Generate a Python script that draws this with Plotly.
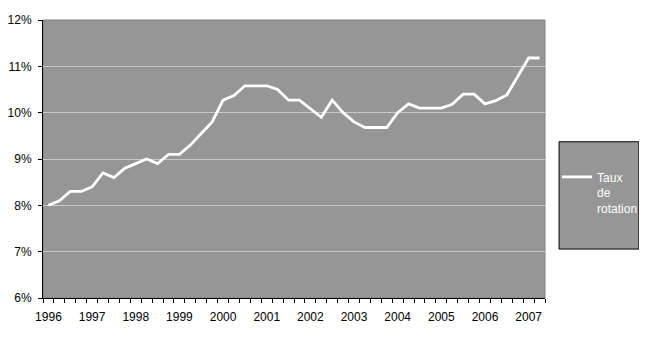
import plotly.graph_objects as go

# Quarterly data, 1996 Q1 .. 2007 Q2
quarters = [f"{y}T{q}" for y in range(1996, 2008) for q in range(1, 5)][:46]
taux_rotation = [
    8.0, 8.1, 8.3, 8.3, 8.4, 8.7, 8.6, 8.8,
    8.9, 9.0, 8.9, 9.1, 9.1, 9.3, 9.55, 9.8,
    10.27, 10.37, 10.58, 10.58, 10.58, 10.5, 10.27, 10.27,
    10.09, 9.9, 10.27, 10.0, 9.8, 9.68, 9.68, 9.68,
    10.0, 10.19, 10.1, 10.1, 10.1, 10.18, 10.4, 10.4,
    10.19, 10.26, 10.38, 10.78, 11.18, 11.18,
]
year_labels = [str(y) for y in range(1996, 2008)]
series_name = "Taux<br>de<br>rotation"

x_idx = list(range(len(quarters)))
year_ticks = [quarters.index(f"{y}T1") for y in range(1996, 2008)]

FONT = "Arial, Liberation Sans, sans-serif"
GRAY = "#969696"

fig = go.Figure()
fig.add_trace(go.Scatter(
    x=x_idx, y=taux_rotation, mode="lines", name=series_name,
    line=dict(color="white", width=2.8),
    customdata=quarters,
))

fig.update_layout(
    width=631, height=324,
    margin=dict(l=35, r=94, t=12, b=34, autoexpand=False),
    paper_bgcolor="white",
    plot_bgcolor=GRAY,
    font=dict(family=FONT, size=12, color="black"),
    showlegend=True,
    legend=dict(
        x=1.024, xanchor="left", y=0.487, yanchor="top",
        bgcolor="rgba(0,0,0,0)", borderwidth=0,
        font=dict(family=FONT, size=12, color="white"),
        valign="top", tracegroupgap=0,
    ),
    shapes=[
        dict(type="rect", xref="paper", yref="paper", x0=0, x1=1, y0=0, y1=1,
             line=dict(color="#808080", width=1), fillcolor="rgba(0,0,0,0)", layer="below"),
        dict(type="rect", xref="paper", yref="paper",
             x0=1.028, x1=1.187, y0=0.176, y1=0.562,
             line=dict(color="black", width=1), fillcolor=GRAY, layer="below"),
    ],
)

fig.update_xaxes(
    range=[-0.5, len(quarters) - 0.5],
    tickmode="array", tickvals=year_ticks, ticktext=year_labels,
    ticks="", showgrid=False, zeroline=False,
    showline=True, linecolor="black", linewidth=1,
    minor=dict(ticks="outside", ticklen=4, tickcolor="black", tick0=-0.5, dtick=1, showgrid=False),
    tickfont=dict(family=FONT, size=12, color="black"),
    ticklabelstandoff=8, automargin=False,
)
fig.update_yaxes(
    range=[6, 12], dtick=1, tick0=6, ticksuffix="%",
    ticks="outside", ticklen=4, tickcolor="black",
    showgrid=True, gridcolor="#c8c8c8", gridwidth=1,
    zeroline=False, showline=True, linecolor="black", linewidth=1,
    tickfont=dict(family=FONT, size=12, color="black"),
    ticklabelstandoff=4, automargin=False,
)

fig.write_html("out.html")
